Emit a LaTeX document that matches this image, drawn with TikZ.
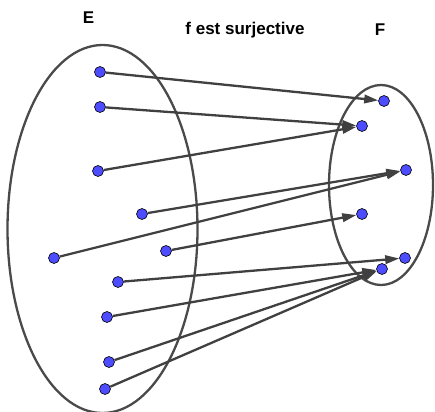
\documentclass[tikz,border=0pt]{standalone}
\usepackage{fontspec}
\setmainfont{Liberation Sans}
\usetikzlibrary{arrows.meta}
\definecolor{ptblue}{RGB}{77,77,255}
\definecolor{lngray}{RGB}{64,64,64}

\begin{document}
\begin{tikzpicture}[
  x=1pt, y=-1pt,
  >={Triangle[length=14pt, width=8.5pt]},
  every node/.style={font=\bfseries\fontsize{17}{20}\selectfont},
  dot/.style ={circle, draw=black, line width=0.6pt, fill=ptblue, inner sep=0pt, minimum size=11pt},
  set/.style ={draw=lngray!95, line width=2.3pt},
  arr/.style ={->, line width=2.3pt, lngray},
  term/.style={anchor=base, inner sep=0pt},
]
  \useasboundingbox (0,0) rectangle (435,411);
  \draw[set] (102.5,229) ellipse [x radius=95, y radius=184];
  \draw[set] (381,185) ellipse [x radius=52, y radius=100];
  \node[term] (nE) at (88.5,24) {E};
  \node[term] (title) at (245,35) {f est surjective};
  \node[term] (nF) at (380,36) {F};
  % points of E
  \node[dot] (e1)  at (100,72)  {};
  \node[dot] (e2)  at (100,107) {};
  \node[dot] (e3)  at (98,171)  {};
  \node[dot] (e4)  at (142,214) {};
  \node[dot] (e5)  at (54,258)  {};
  \node[dot] (e6)  at (166,251) {};
  \node[dot] (e7)  at (118,282) {};
  \node[dot] (e8)  at (107,317) {};
  \node[dot] (e9)  at (109,362) {};
  \node[dot] (e10) at (105,389) {};
  % points of F
  \node[dot] (f1) at (384,101) {};
  \node[dot] (f2) at (362,126) {};
  \node[dot] (f3) at (406,170) {};
  \node[dot] (f4) at (362,214) {};
  \node[dot] (f5) at (405,258) {};
  \node[dot] (f6) at (382,269) {};
  \foreach \a/\b in {e1/f1,e2/f2,e3/f2,e4/f3,e5/f3,e6/f4,e7/f5,e8/f6,e9/f6,e10/f6}\draw[arr](\a)--(\b);
\end{tikzpicture}
\end{document}
